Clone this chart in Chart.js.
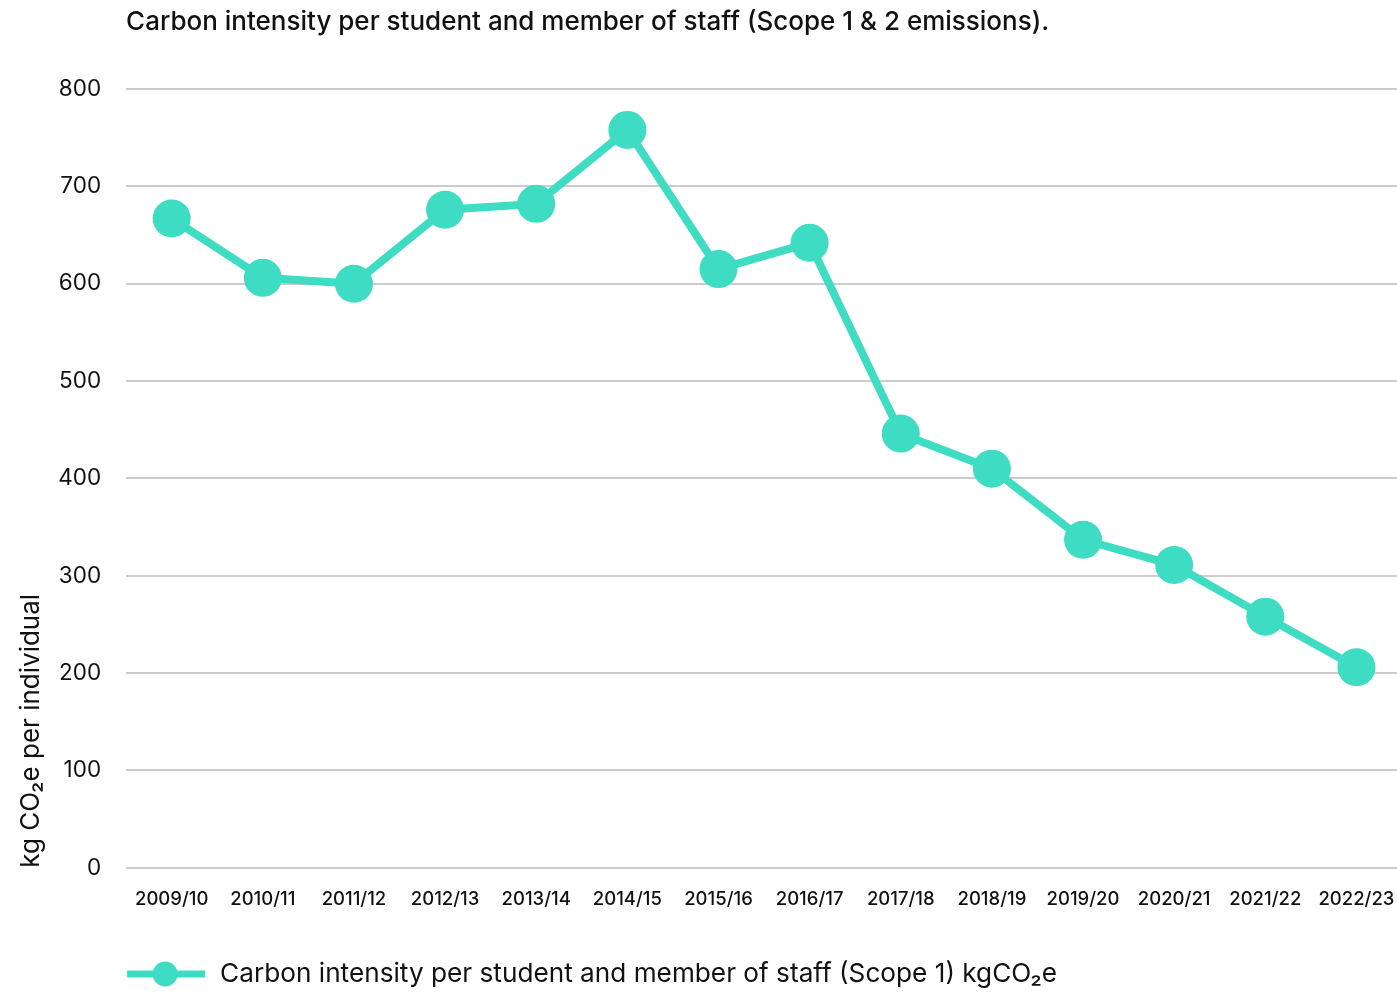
<!DOCTYPE html>
<html>
<head>
<meta charset="utf-8">
<script src="https://cdn.jsdelivr.net/npm/chart.js@4.4.0/dist/chart.umd.min.js"></script>
<style>
html,body{margin:0;padding:0;background:#fff;overflow:hidden;}
#wrap{position:relative;width:1397px;height:993px;overflow:hidden;}
#c{position:absolute;left:0;top:0;}
</style>
</head>
<body>
<div id="wrap"><canvas id="c" width="1421" height="993"></canvas></div>
<script>
const title = "Carbon intensity per student and member of staff (Scope 1 & 2 emissions).";
const categories = ["2009/10","2010/11","2011/12","2012/13","2013/14","2014/15","2015/16","2016/17","2017/18","2018/19","2019/20","2020/21","2021/22","2022/23"];
const seriesName = "Carbon intensity per student and member of staff (Scope 1) kgCO\u2082e";
const values = [667, 606, 600, 676, 682, 758, 615, 642, 446, 410, 337, 311, 258, 206];
const yTicks = [0, 100, 200, 300, 400, 500, 600, 700, 800];
const yTitle = "kg CO\u2082e per individual";

const COLOR = "#3ddcc3";
const FONT = "Inter, 'Noto Sans', sans-serif";

const titleLegendPlugin = {
  id: 'titleLegend',
  afterDraw(chart){
    const ctx = chart.ctx;
    const L = chart.chartArea.left;
    ctx.save();
    ctx.fillStyle = "#111";
    ctx.textBaseline = "middle";
    ctx.textAlign = "left";
    ctx.font = "500 26px " + FONT;
    ctx.fillText(title, L, 22);
    // legend
    const ly = 974;
    ctx.strokeStyle = COLOR; ctx.lineWidth = 7;
    ctx.beginPath(); ctx.moveTo(L + 1, ly); ctx.lineTo(L + 79, ly); ctx.stroke();
    ctx.fillStyle = COLOR;
    ctx.beginPath(); ctx.arc(L + 39, ly, 12.5, 0, Math.PI * 2); ctx.fill();
    ctx.fillStyle = "#111";
    ctx.font = "26.2px " + FONT;
    ctx.fillText(chart.data.datasets[0].label, L + 94, ly);
    ctx.restore();
  }
};

new Chart(document.getElementById('c'), {
  type: 'line',
  data: {
    labels: categories,
    datasets: [{
      label: seriesName,
      data: values,
      borderColor: COLOR,
      backgroundColor: COLOR,
      borderWidth: 8,
      pointRadius: 19,
      pointHoverRadius: 19,
      pointBackgroundColor: COLOR,
      pointBorderWidth: 0,
      tension: 0
    }]
  },
  options: {
    responsive: false,
    animation: false,
    layout: { padding: { top: 89, right: 0, left: 16, bottom: 82 } },
    plugins: {
      tooltip: { enabled: false },
      legend: { display: false }
    },
    scales: {
      x: {
        offset: true,
        afterFit(axis){ axis.paddingLeft = 0; axis.paddingRight = 0; },
        grid: { display: true, drawOnChartArea: false, drawTicks: true, tickLength: 21, tickColor: 'rgba(0,0,0,0)', color: 'rgba(0,0,0,0)' },
        border: { display: false },
        ticks: { color: '#111', font: { family: FONT, size: 18.5, weight: '500' }, padding: 0, maxRotation: 0, autoSkip: false }
      },
      y: {
        min: 0, max: 800,
        afterBuildTicks(axis){ axis.ticks = yTicks.map(v => ({ value: v })); },
        grid: { color: '#cccccc', lineWidth: 2, drawTicks: false },
        border: { display: false },
        ticks: { color: '#111', font: { family: FONT, size: 22.5 }, padding: 25 },
        title: { display: true, text: yTitle, color: '#111', font: { family: FONT, size: 26 }, padding: { top: 0, bottom: -14 }, align: 'start' }
      }
    }
  },
  plugins: [titleLegendPlugin]
});
</script>
</body>
</html>
